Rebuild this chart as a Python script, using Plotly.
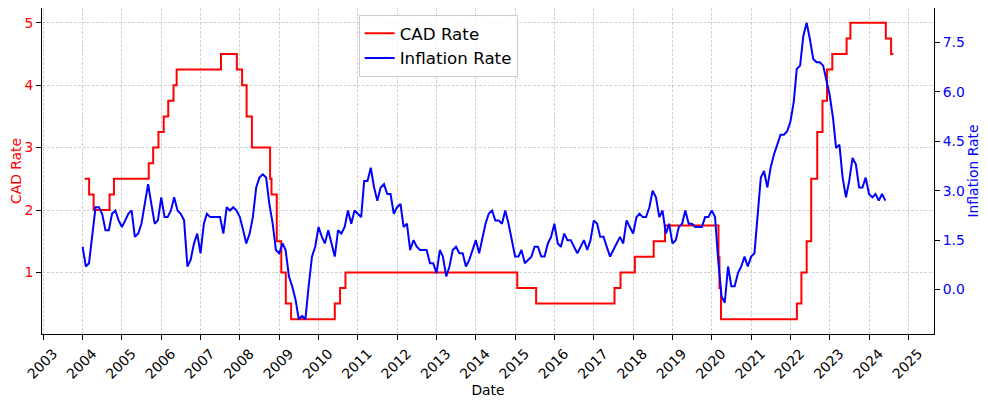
import pandas as pd
import plotly.graph_objects as go

# Bank of Canada policy rate (change dates and new rate)
cad_dates = ["2004-01-20", "2004-03-02", "2004-04-13", "2004-09-08", "2004-10-19",
             "2005-09-07", "2005-10-18", "2005-12-06", "2006-01-24", "2006-03-07",
             "2006-04-25", "2006-05-24", "2007-07-10", "2007-12-04", "2008-01-22",
             "2008-03-04", "2008-04-22", "2008-10-08", "2008-10-21", "2008-12-09",
             "2009-01-20", "2009-03-03", "2009-04-21", "2010-06-01", "2010-07-20",
             "2010-09-08", "2015-01-21", "2015-07-15", "2017-07-12", "2017-09-06",
             "2018-01-17", "2018-07-11", "2018-10-24", "2020-03-04", "2020-03-13",
             "2020-03-27", "2022-03-02", "2022-04-13", "2022-06-01", "2022-07-13",
             "2022-09-07", "2022-10-26", "2022-12-07", "2023-01-25", "2023-06-07",
             "2023-07-12", "2024-06-05", "2024-07-24", "2024-08-15"]
cad_rates = [2.5, 2.25, 2.0, 2.25, 2.5,
             2.75, 3.0, 3.25, 3.5, 3.75,
             4.0, 4.25, 4.5, 4.25, 4.0,
             3.5, 3.0, 2.5, 2.25, 1.5,
             1.0, 0.5, 0.25, 0.5, 0.75,
             1.0, 0.75, 0.5, 0.75, 1.0,
             1.25, 1.5, 1.75, 1.25, 0.75,
             0.25, 0.5, 1.0, 1.5, 2.5,
             3.25, 3.75, 4.25, 4.5, 4.75,
             5.0, 4.75, 4.5, 4.5]

# Monthly CPI inflation (year over year, %), Jan 2004 .. Jun 2024
infl_start = "2004-01-01"
inflation = [
    1.3, 0.7, 0.8, 1.6, 2.5, 2.5, 2.3, 1.8, 1.8, 2.3, 2.4, 2.1,   # 2004
    1.9, 2.1, 2.3, 2.4, 1.6, 1.7, 2.0, 2.6, 3.2, 2.6, 2.0, 2.1,   # 2005
    2.8, 2.2, 2.2, 2.4, 2.8, 2.4, 2.3, 2.1, 0.7, 0.9, 1.4, 1.7,   # 2006
    1.1, 2.0, 2.3, 2.2, 2.2, 2.2, 2.2, 1.7, 2.5, 2.4, 2.5, 2.4,   # 2007
    2.2, 1.8, 1.4, 1.7, 2.2, 3.1, 3.4, 3.5, 3.4, 2.6, 2.0, 1.2,   # 2008
    1.1, 1.4, 1.2, 0.4, 0.1, -0.3, -0.9, -0.8, -0.9, 0.1, 1.0, 1.3,  # 2009
    1.9, 1.6, 1.4, 1.8, 1.4, 1.0, 1.8, 1.7, 1.9, 2.4, 2.0, 2.4,   # 2010
    2.3, 2.2, 3.3, 3.3, 3.7, 3.1, 2.7, 3.1, 3.2, 2.9, 2.9, 2.3,   # 2011
    2.5, 2.6, 1.9, 2.0, 1.2, 1.5, 1.3, 1.2, 1.2, 1.2, 0.8, 0.8,   # 2012
    0.5, 1.2, 1.0, 0.4, 0.7, 1.2, 1.3, 1.1, 1.1, 0.7, 0.9, 1.2,   # 2013
    1.5, 1.1, 1.5, 2.0, 2.3, 2.4, 2.1, 2.1, 2.0, 2.4, 2.0, 1.5,   # 2014
    1.0, 1.0, 1.2, 0.8, 0.9, 1.0, 1.3, 1.3, 1.0, 1.0, 1.4, 1.6,   # 2015
    2.0, 1.4, 1.3, 1.7, 1.5, 1.5, 1.3, 1.1, 1.3, 1.5, 1.2, 1.5,   # 2016
    2.1, 2.0, 1.6, 1.6, 1.3, 1.0, 1.2, 1.4, 1.6, 1.4, 2.1, 1.9,   # 2017
    1.7, 2.2, 2.3, 2.2, 2.2, 2.5, 3.0, 2.8, 2.2, 2.4, 1.7, 2.0,   # 2018
    1.4, 1.5, 1.9, 2.0, 2.4, 2.0, 2.0, 1.9, 1.9, 1.9, 2.2, 2.2,   # 2019
    2.4, 2.2, 0.9, -0.2, -0.4, 0.7, 0.1, 0.1, 0.5, 0.7, 1.0, 0.7,  # 2020
    1.0, 1.1, 2.2, 3.4, 3.6, 3.1, 3.7, 4.1, 4.4, 4.7, 4.7, 4.8,   # 2021
    5.1, 5.7, 6.7, 6.8, 7.7, 8.1, 7.6, 7.0, 6.9, 6.9, 6.8, 6.3,   # 2022
    5.9, 5.2, 4.3, 4.4, 3.4, 2.8, 3.3, 4.0, 3.8, 3.1, 3.1, 3.4,   # 2023
    2.9, 2.8, 2.9, 2.7, 2.9, 2.7,                                 # 2024
]
infl_dates = pd.date_range(infl_start, periods=len(inflation), freq="MS")

left_ticks = [1, 2, 3, 4, 5]
right_ticks = [0.0, 1.5, 3.0, 4.5, 6.0, 7.5]

FONT = "DejaVu Sans"
FS = 13.9
GRID = "rgba(175,175,175,0.55)"
GRID_DASH = "3px,1.5px"

# matplotlib-like 5% data margins
cad_ts = pd.to_datetime(cad_dates)
x0 = min(cad_ts.min(), infl_dates.min())
x1 = max(cad_ts.max(), infl_dates.max())
xpad = (x1 - x0) * 0.05
ylo, yhi = min(cad_rates), max(cad_rates)
ypad = (yhi - ylo) * 0.05
ilo, ihi = min(inflation), max(inflation)
ipad = (ihi - ilo) * 0.05

fig = go.Figure()
fig.add_trace(go.Scatter(x=cad_ts, y=cad_rates, mode="lines", name="CAD Rate",
                         line=dict(color="red", width=2, shape="hv")))
fig.add_trace(go.Scatter(x=infl_dates, y=inflation, mode="lines", name="Inflation Rate",
                         yaxis="y2", line=dict(color="blue", width=2)))

# the page body adds an 8px offset; the figure is sized so the plot lands in place
fig.update_layout(
    width=980, height=393,
    margin=dict(l=34, r=54, t=0, b=67, autoexpand=False),
    paper_bgcolor="white", plot_bgcolor="white",
    font=dict(family=FONT, size=FS, color="black"),
    showlegend=True,
    legend=dict(x=0.355, y=0.979, xanchor="left", yanchor="top",
                bgcolor="rgba(255,255,255,0.8)", bordercolor="#cccccc", borderwidth=1,
                font=dict(size=16.7, color="black"), tracegroupgap=0),
    xaxis=dict(type="date", range=[x0 - xpad, x1 + xpad], automargin=False,
               tick0="2003-01-01", dtick="M12", tickformat="%Y", tickangle=-45,
               ticklabelshift=10,
               showgrid=True, gridcolor=GRID, griddash=GRID_DASH, gridwidth=0.8,
               showline=True, linecolor="black", linewidth=1, mirror=True,
               ticks="outside", ticklen=5, tickcolor="black",
               tickfont=dict(size=FS, color="black"),
               title=dict(text="Date", font=dict(size=FS, color="black"), standoff=0),
               zeroline=False),
    yaxis=dict(range=[ylo - ypad, yhi + ypad], tickvals=left_ticks, automargin=False,
               showgrid=True, gridcolor=GRID, griddash=GRID_DASH, gridwidth=0.8,
               showline=True, linecolor="black", linewidth=1,
               ticks="outside", ticklen=5, tickcolor="black",
               tickfont=dict(size=FS, color="red"),
               title=dict(text="CAD Rate", font=dict(size=FS, color="red"), standoff=3),
               zeroline=False),
    yaxis2=dict(range=[ilo - ipad, ihi + ipad], tickvals=right_ticks, tickformat=".1f",
                overlaying="y", side="right", showgrid=False, automargin=False,
                showline=True, linecolor="black", linewidth=1,
                ticks="outside", ticklen=5, tickcolor="black",
                tickfont=dict(size=FS, color="blue"),
                title=dict(text="Inflation Rate", font=dict(size=FS, color="blue"), standoff=3),
                zeroline=False),
)

fig.write_html("out.html")
